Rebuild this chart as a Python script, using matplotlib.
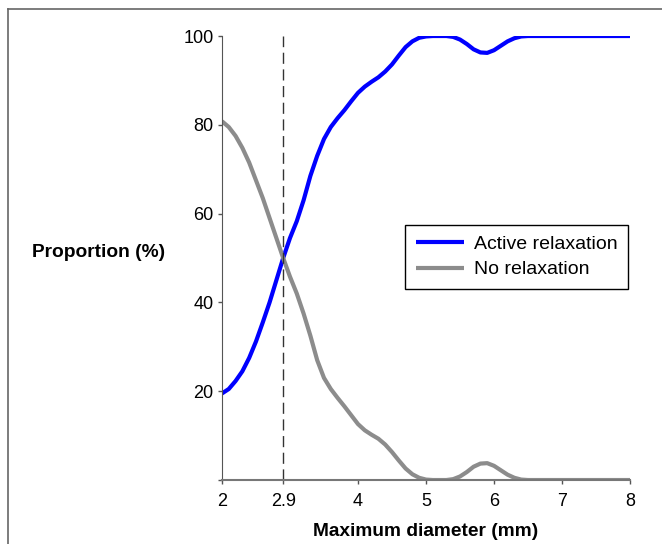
import numpy as np
import matplotlib.pyplot as plt
from matplotlib.lines import Line2D

plt.rcParams['font.family'] = ['Liberation Sans', 'DejaVu Sans']

# proportion (%) vs maximum diameter (mm)
diameter = [2.0, 2.1, 2.2, 2.3, 2.4, 2.5, 2.6, 2.7, 2.8, 2.9,
            3.0, 3.1, 3.2, 3.3, 3.4, 3.5, 3.6, 3.7, 3.8, 3.9,
            4.0, 4.1, 4.2, 4.3, 4.4, 4.5, 4.6, 4.7, 4.8, 4.9,
            5.0, 5.1, 5.2, 5.3, 5.4, 5.5, 5.6, 5.7, 5.8, 5.9,
            6.0, 6.1, 6.2, 6.3, 6.4, 6.5, 7.0, 8.0]
active = [19.5, 20.5, 22.3, 24.5, 27.5, 31.2, 35.5, 40.0, 45.0, 50.0,
          54.5, 58.3, 63.0, 68.5, 73.0, 76.8, 79.5, 81.5, 83.3, 85.3,
          87.2, 88.6, 89.7, 90.7, 92.0, 93.6, 95.6, 97.5, 98.8, 99.6,
          99.9, 100, 100, 100, 99.8, 99.2, 98.2, 97.0, 96.3, 96.2,
          96.8, 97.8, 98.8, 99.5, 99.9, 100, 100, 100]
no_relax = [80.8, 79.5, 77.5, 74.8, 71.5, 67.5, 63.5, 59.0, 54.5, 50.0,
            45.8, 42.0, 37.5, 32.5, 27.0, 23.0, 20.5, 18.5, 16.6, 14.6,
            12.6, 11.2, 10.2, 9.3, 8.0, 6.3, 4.4, 2.6, 1.3, 0.5,
            0.1, 0, 0, 0, 0.2, 0.8, 1.8, 3.0, 3.7, 3.8,
            3.2, 2.2, 1.2, 0.5, 0.1, 0, 0, 0]
cutoff = 2.9

xticks = [2, 2.9, 4, 5, 6, 7, 8]
xtick_labels = ['2', '2.9', '4', '5', '6', '7', '8']
yticks = [0, 20, 40, 60, 80, 100]
ytick_labels = ['', '20', '40', '60', '80', '100']

fig = plt.figure(figsize=(6.62, 5.44), dpi=100)
ax = fig.add_axes([0.3353, 0.1176, 0.6164, 0.8162])

ax.plot(diameter, active, color='#0000ff', lw=3, label='Active relaxation',
        solid_capstyle='butt', solid_joinstyle='round')
ax.plot(diameter, no_relax, color='#8c8c8c', lw=3, label='No relaxation',
        solid_capstyle='butt', solid_joinstyle='round')
ax.plot([cutoff, cutoff], [0, 100], color='#333333', lw=1, ls=(0, (8, 4)))

ax.set_xlim(2, 8)
ax.set_ylim(0, 100)
ax.set_xticks(xticks)
ax.set_xticklabels(xtick_labels)
ax.set_yticks(yticks)
ax.set_yticklabels(ytick_labels)
ax.tick_params(labelsize=13, length=3, width=1, color='#555555')
ax.tick_params(axis='y', pad=3)
ax.tick_params(axis='x', pad=6)

for s in ['top', 'right']:
    ax.spines[s].set_visible(False)
ax.spines['left'].set_color('#555555')
ax.spines['bottom'].set_color('#777777')
ax.spines['bottom'].set_linewidth(1.5)

ax.set_xlabel('Maximum diameter (mm)', fontsize=13.8, fontweight='bold', labelpad=10)
fig.text(0.149, 0.535, 'Proportion (%)', fontsize=13.8, fontweight='bold',
         ha='center', va='center')

leg = ax.legend(loc='upper left', bbox_to_anchor=(0.4485, 0.575), fontsize=14,
                fancybox=False, edgecolor='black', framealpha=1,
                handlelength=2.5, handletextpad=0.5, borderpad=0.55,
                labelspacing=0.4, borderaxespad=0)
leg.get_frame().set_linewidth(1)

# outer frame
fig.add_artist(Line2D([0.012, 1.0], [0.983, 0.983], transform=fig.transFigure,
                      color='#666666', lw=1.2))
fig.add_artist(Line2D([0.012, 0.012], [0.0, 0.983], transform=fig.transFigure,
                      color='#666666', lw=1.2))

fig.savefig('out.png', dpi=100)
